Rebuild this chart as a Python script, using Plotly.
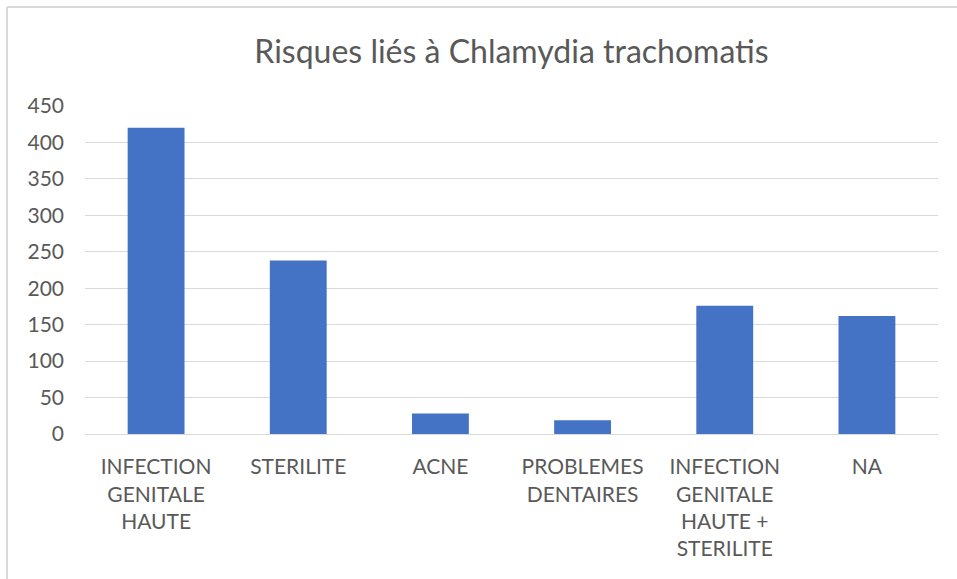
import plotly.graph_objects as go

categories = [
    "INFECTION<br>GENITALE<br>HAUTE",
    "STERILITE",
    "ACNE",
    "PROBLEMES<br>DENTAIRES",
    "INFECTION<br>GENITALE<br>HAUTE +<br>STERILITE",
    "NA",
]
values = [420, 238, 28, 19, 176, 162]
y_ticks = [0, 50, 100, 150, 200, 250, 300, 350, 400, 450]

W, H = 957, 579
L, R, T, B = 85, 19, 106, 145
pw, ph = W - L - R, H - T - B

def px_x(x):
    return (x - L) / pw

def px_y(y):
    return (H - B - y) / ph

fig = go.Figure(
    go.Bar(
        x=categories,
        y=values,
        marker=dict(color="#4472C4", line=dict(width=0)),
        hoverinfo="x+y",
    )
)

fig.update_layout(
    width=W,
    height=H,
    margin=dict(l=L, r=R, t=T, b=B),
    paper_bgcolor="white",
    plot_bgcolor="white",
    bargap=0.6,
    showlegend=False,
    font=dict(family="Lato, Carlito, sans-serif", color="#595959", size=21),
    title=dict(
        text="Risques liés à Chlamydia trachomatis",
        x=0.5,
        xref="paper",
        y=1 - 52 / H,
        yanchor="middle",
        font=dict(size=32, color="#595959"),
    ),
    xaxis=dict(
        showgrid=False,
        showline=True,
        linecolor="#D9D9D9",
        linewidth=1,
        ticks="",
        ticklabelstandoff=14,
        tickfont=dict(size=21),
    ),
    yaxis=dict(
        range=[0, 450],
        tickvals=y_ticks,
        showgrid=True,
        gridcolor="#D9D9D9",
        gridwidth=1,
        zeroline=False,
        showline=False,
        ticks="",
        ticklabelstandoff=20,
        tickfont=dict(size=21),
    ),
    shapes=[
        dict(type="line", xref="paper", yref="paper",
             x0=px_x(7), x1=px_x(957), y0=px_y(7), y1=px_y(7),
             line=dict(color="#D9D9D9", width=2)),
        dict(type="line", xref="paper", yref="paper",
             x0=px_x(7), x1=px_x(7), y0=px_y(7), y1=px_y(579),
             line=dict(color="#D9D9D9", width=2)),
    ],
)

fig.write_html(
    "out.html",
    config={"displayModeBar": False},
    post_script="document.body.style.margin='0';document.body.style.overflow='hidden';",
)
